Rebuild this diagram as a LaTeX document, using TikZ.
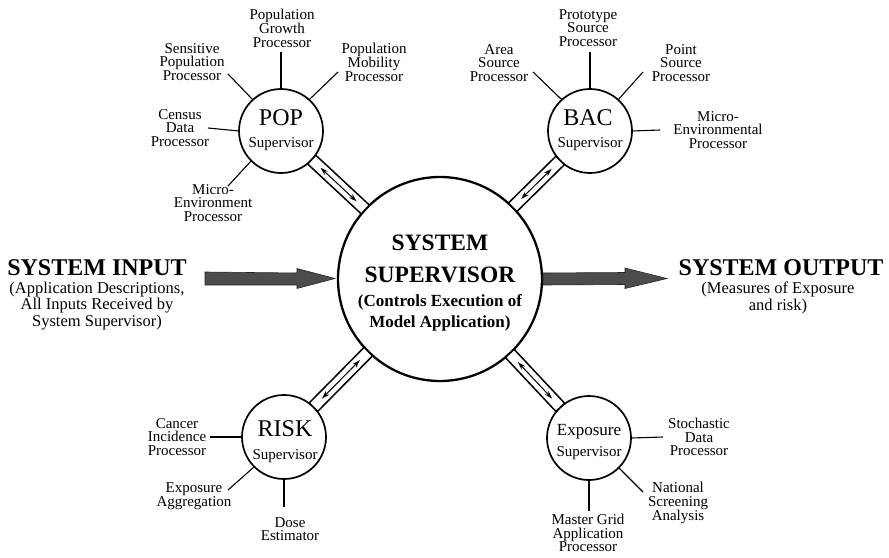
\documentclass[tikz,border=0pt]{standalone}
\usepackage{fontspec}
\setmainfont{Liberation Serif}
\usetikzlibrary{calc,arrows.meta}
\begin{document}
\begin{tikzpicture}[x=1pt,y=-1pt,
  sat/.style={circle,draw,line width=1.7pt,minimum size=84pt,inner sep=0pt,outer sep=0pt,fill=white},
  lab/.style={align=center,font=\fontsize{15}{13.6}\selectfont,inner sep=0pt},
  spoke/.style={line width=1.1pt},
  tube/.style={line width=1.5pt,fill=white,line join=miter},
  dbl/.style={line width=1pt,{Stealth[length=8pt,width=5pt]}-{Stealth[length=8pt,width=5pt]}},
  bigarrow/.style={fill=black!70,draw=black!85,line width=0.6pt},
  bigtitle/.style={font=\fontsize{24}{26}\selectfont\bfseries,inner sep=0pt,anchor=base},
  subtxt/.style={align=center,font=\fontsize{16.5}{16.5}\selectfont,inner sep=0pt},
  satname/.style={font=\fontsize{24}{24}\selectfont,inner sep=0pt,anchor=base},
  satsub/.style={font=\fontsize{15}{15}\selectfont,inner sep=0pt,anchor=base},
  ctrbig/.style={font=\fontsize{23.5}{23.5}\selectfont\bfseries,inner sep=0pt,anchor=base},
  ctrsmall/.style={font=\fontsize{17}{17}\selectfont\bfseries,inner sep=0pt,anchor=base}
]
\useasboundingbox (0,0) rectangle (889,557);

% central circle
\node[circle,draw,line width=2.3pt,minimum size=204pt,inner sep=0pt,outer sep=0pt] (ctr) at (440,279) {};
\node[ctrbig] (ctrA) at (440,250) {SYSTEM};
\node[ctrbig] (ctrB) at (440,282) {SUPERVISOR};
\node[ctrsmall] (ctrC) at (440,306) {(Controls Execution of};
\node[ctrsmall] (ctrD) at (440,327) {Model Application)};

% satellite circles
\node[sat] (pop) at (281,131) {};
\node[satname] (popA) at (281,125) {POP};
\node[satsub] (popB) at (281,147) {Supervisor};

\node[sat] (bac) at (590,131) {};
\node[satname] (bacA) at (588,125) {BAC};
\node[satsub] (bacB) at (590,147) {Supervisor};

\node[sat] (risk) at (284,437) {};
\node[satname] (riskA) at (285,436) {RISK};
\node[satsub] (riskB) at (285,459) {Supervisor};

\node[sat] (expo) at (589,438) {};
\node[font=\fontsize{17}{17}\selectfont,inner sep=0pt,anchor=base] (expoA) at (589,435) {Exposure};
\node[satsub] (expoB) at (589,456) {Supervisor};

% tubes with double arrows
\foreach \s in {pop,bac,risk,expo}{
  \coordinate (\s A) at ($(ctr)!102pt!(\s)$);
  \coordinate (\s B) at ($(\s)!42pt!(ctr)$);
  \draw[tube] ($(\s A)!6pt!90:(\s B)$) -- ($(\s B)!6pt!-90:(\s A)$)
     -- ($(\s B)!6pt!90:(\s A)$) -- ($(\s A)!6pt!-90:(\s B)$) -- cycle;
  \draw[dbl] ($(\s A)!12pt!(\s B)$) -- ($(\s B)!12pt!(\s A)$);
}

% POP labels
\node[lab] (pgp) at (282,28) {Population\\Growth\\Processor};
\node[lab] (spp) at (192,62) {Sensitive\\Population\\Processor};
\node[lab] (pmp) at (374,62) {Population\\Mobility\\Processor};
\node[lab] (cdp) at (180,128) {Census\\Data\\Processor};
\node[lab] (mep) at (213,203) {Micro-\\Environment\\Processor};
\coordinate (ePGP) at (281,52);
\coordinate (eSPP) at (228,74);
\coordinate (ePMP) at (338,72);
\coordinate (eCDP) at (208,128);
\coordinate (eMEP) at (228,186);
\draw[spoke] (pop.90) -- (ePGP);
\draw[spoke] (pop.132) -- (eSPP);
\draw[spoke] (pop.48) -- (ePMP);
\draw[spoke] (pop.180) -- (eCDP);
\draw[spoke] (pop.225) -- (eMEP);

% BAC labels
\node[lab] (asp) at (499,63) {Area\\Source\\Processor};
\node[lab] (psp) at (588,28) {Prototype\\Source\\Processor};
\node[lab] (ptsp) at (681,63) {Point\\Source\\Processor};
\node[lab] (mep2) at (718,130) {Micro-\\Environmental\\Processor};
\coordinate (eASP) at (533,72);
\coordinate (ePSP) at (590,52);
\coordinate (ePtSP) at (643,72);
\coordinate (eMEP2) at (660,130);
\draw[spoke] (bac.132) -- (eASP);
\draw[spoke] (bac.90) -- (ePSP);
\draw[spoke] (bac.48) -- (ePtSP);
\draw[spoke] (bac.0) -- (eMEP2);

% RISK labels
\node[lab] (cip) at (177,437) {Cancer\\Incidence\\Processor};
\node[lab] (ea) at (194,496) {Exposure\\Aggregation};
\node[lab] (de) at (290,529) {Dose\\Estimator};
\coordinate (eCIP) at (210,437);
\coordinate (eEA) at (228,490);
\coordinate (eDE) at (284,507);
\draw[spoke] (risk.180) -- (eCIP);
\draw[spoke] (risk.225) -- (eEA);
\draw[spoke] (risk.270) -- (eDE);

% Exposure labels
\node[lab] (sdp) at (699,437) {Stochastic\\Data\\Processor};
\node[lab] (nsa) at (678,503) {National\\Screening\\Analysis};
\node[lab] (mgap) at (588,533) {Master Grid\\Application\\Processor};
\coordinate (eSDP) at (663,437);
\coordinate (eNSA) at (643,492);
\coordinate (eMGAP) at (589,511);
\draw[spoke] (expo.0) -- (eSDP);
\draw[spoke] (expo.-45) -- (eNSA);
\draw[spoke] (expo.270) -- (eMGAP);

% system input / output
\node[bigtitle] (sin) at (97,275) {SYSTEM INPUT};
\node[subtxt] (sinSub) at (97,306) {(Application Descriptions,\\All Inputs Received by\\System Supervisor)};
\node[bigtitle] (sout) at (781,275) {SYSTEM OUTPUT};
\node[subtxt] (soutSub) at (778,298) {(Measures of Exposure\\and risk)};

\coordinate (inS) at (205,278.5);
\coordinate (outT) at (667,278.5);
\draw[bigarrow] (inS) ++(0,-6.5) -- ($(ctr.west)+(-41,-6)$) -- ($(ctr.west)+(-41,-10.5)$)
  -- ($(ctr.west)+(-3,-0.5)$) -- ($(ctr.west)+(-41,9.5)$) -- ($(ctr.west)+(-41,6)$)
  -- ($(inS)+(0,6.5)$) -- cycle;
\draw[bigarrow] ($(ctr.east)+(1,-6)$) -- ($(outT)+(-42,-6)$) -- ($(outT)+(-42,-10.5)$)
  -- (outT) -- ($(outT)+(-42,10)$) -- ($(outT)+(-42,6)$) -- ($(ctr.east)+(1,6)$) -- cycle;
\end{tikzpicture}
\end{document}
